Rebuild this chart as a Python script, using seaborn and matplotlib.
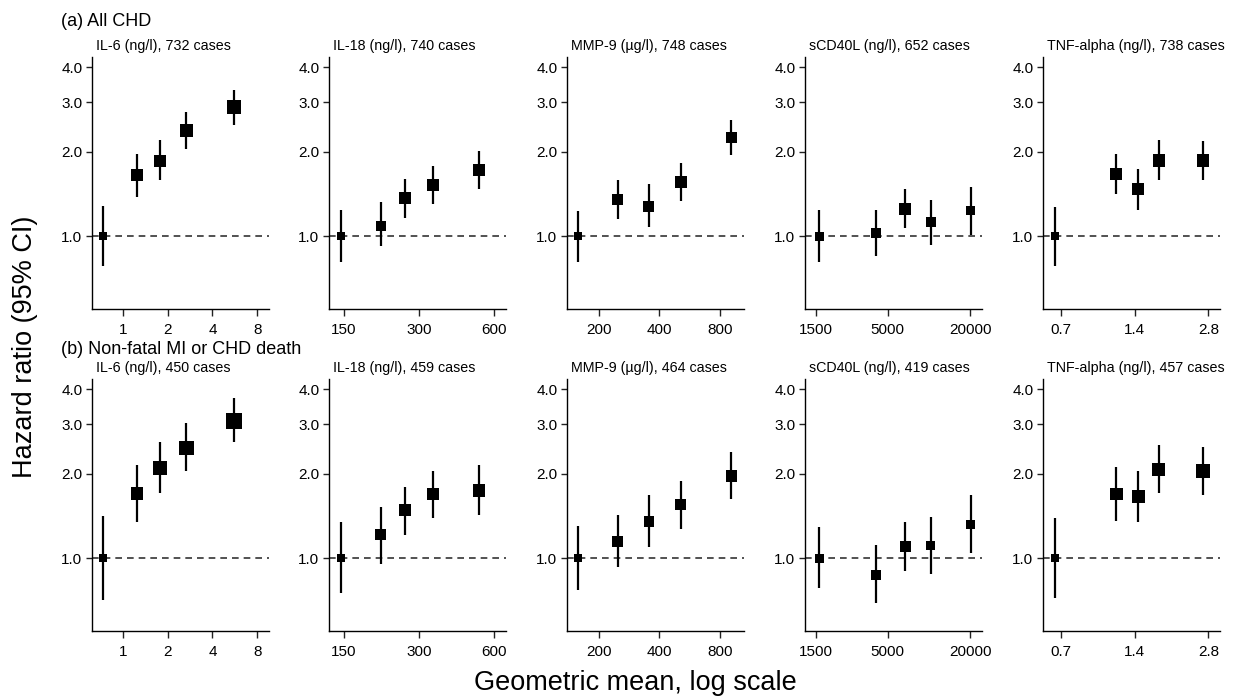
import numpy as np
import pandas as pd
import matplotlib
matplotlib.use("Agg")
import matplotlib.pyplot as plt
import seaborn as sns

# biomarkers and number of cases per outcome
biomarkers = ["IL-6 (ng/l)", "IL-18 (ng/l)", "MMP-9 (µg/l)", "sCD40L (ng/l)", "TNF-alpha (ng/l)"]
cases_all_chd = [732, 740, 748, 652, 738]
cases_mi_death = [450, 459, 464, 419, 457]
outcomes = ["(a) All CHD", "(b) Non-fatal MI or CHD death"]

# geometric mean of each fifth (x axis)
gm_il6 = [0.73, 1.24, 1.78, 2.67, 5.6]
gm_il18 = [146, 211, 264, 341, 523]
gm_mmp9 = [158, 249, 355, 511, 913]
gm_scd40l = [1580, 4120, 6720, 10260, 20100]
gm_tnf = [0.664, 1.18, 1.45, 1.76, 2.66]

x_ticks = [[1, 2, 4, 8], [150, 300, 600], [200, 400, 800], [1500, 5000, 20000], [0.7, 1.4, 2.8]]
x_tick_labels = [["1", "2", "4", "8"], ["150", "300", "600"], ["200", "400", "800"],
                 ["1500", "5000", "20000"], ["0.7", "1.4", "2.8"]]
x_limits = [(0.62, 9.6), (131, 670), (139.5, 1054), (1242, 24360), (0.593, 3.12)]

# (a) All CHD: hazard ratio, lower, upper
hr_a_il6 = [1.0, 1.65, 1.86, 2.38, 2.89]
lo_a_il6 = [0.78, 1.38, 1.58, 2.04, 2.49]
hi_a_il6 = [1.28, 1.96, 2.21, 2.77, 3.33]
hr_a_il18 = [1.0, 1.09, 1.37, 1.52, 1.72]
lo_a_il18 = [0.81, 0.92, 1.16, 1.30, 1.47]
hi_a_il18 = [1.24, 1.32, 1.60, 1.78, 2.01]
hr_a_mmp9 = [1.0, 1.35, 1.28, 1.56, 2.25]
lo_a_mmp9 = [0.81, 1.15, 1.08, 1.33, 1.94]
hi_a_mmp9 = [1.23, 1.58, 1.53, 1.83, 2.60]
hr_a_scd40l = [1.0, 1.03, 1.25, 1.12, 1.23]
lo_a_scd40l = [0.81, 0.85, 1.07, 0.93, 1.01]
hi_a_scd40l = [1.24, 1.24, 1.47, 1.35, 1.50]
hr_a_tnf = [1.0, 1.67, 1.47, 1.86, 1.86]
lo_a_tnf = [0.78, 1.41, 1.24, 1.58, 1.58]
hi_a_tnf = [1.27, 1.97, 1.74, 2.20, 2.18]

# (b) Non-fatal MI or CHD death
hr_b_il6 = [1.0, 1.70, 2.10, 2.47, 3.08]
lo_b_il6 = [0.71, 1.35, 1.71, 2.04, 2.59]
hi_b_il6 = [1.41, 2.14, 2.59, 3.02, 3.71]
hr_b_il18 = [1.0, 1.21, 1.48, 1.69, 1.74]
lo_b_il18 = [0.75, 0.95, 1.21, 1.39, 1.43]
hi_b_il18 = [1.34, 1.52, 1.80, 2.04, 2.14]
hr_b_mmp9 = [1.0, 1.15, 1.35, 1.55, 1.96]
lo_b_mmp9 = [0.77, 0.93, 1.10, 1.27, 1.62]
hi_b_mmp9 = [1.30, 1.43, 1.68, 1.88, 2.38]
hr_b_scd40l = [1.0, 0.87, 1.10, 1.11, 1.32]
lo_b_scd40l = [0.78, 0.69, 0.90, 0.88, 1.04]
hi_b_scd40l = [1.29, 1.11, 1.35, 1.40, 1.68]
hr_b_tnf = [1.0, 1.69, 1.66, 2.07, 2.04]
lo_b_tnf = [0.72, 1.36, 1.35, 1.70, 1.68]
hi_b_tnf = [1.39, 2.11, 2.04, 2.54, 2.49]

# square marker width (weight of each estimate)
w_a_il6 = [8, 12, 12, 13, 14]
w_a_il18 = [8, 10, 11.5, 11.5, 11.5]
w_a_mmp9 = [8, 11, 11, 12, 11.5]
w_a_scd40l = [9, 10, 12, 10, 9]
w_a_tnf = [8, 12, 12, 12.5, 12.5]
w_b_il6 = [8, 12.5, 14, 14.5, 16]
w_b_il18 = [8, 11, 12, 12.5, 12.5]
w_b_mmp9 = [8, 11, 10.5, 11.5, 11.5]
w_b_scd40l = [9, 10, 11, 9.5, 9.5]
w_b_tnf = [8, 12.5, 13, 13, 14]

gm_all = [gm_il6, gm_il18, gm_mmp9, gm_scd40l, gm_tnf]
rows = [
    [(hr_a_il6, lo_a_il6, hi_a_il6, w_a_il6), (hr_a_il18, lo_a_il18, hi_a_il18, w_a_il18),
     (hr_a_mmp9, lo_a_mmp9, hi_a_mmp9, w_a_mmp9), (hr_a_scd40l, lo_a_scd40l, hi_a_scd40l, w_a_scd40l),
     (hr_a_tnf, lo_a_tnf, hi_a_tnf, w_a_tnf)],
    [(hr_b_il6, lo_b_il6, hi_b_il6, w_b_il6), (hr_b_il18, lo_b_il18, hi_b_il18, w_b_il18),
     (hr_b_mmp9, lo_b_mmp9, hi_b_mmp9, w_b_mmp9), (hr_b_scd40l, lo_b_scd40l, hi_b_scd40l, w_b_scd40l),
     (hr_b_tnf, lo_b_tnf, hi_b_tnf, w_b_tnf)],
]
cases = [cases_all_chd, cases_mi_death]

sns.set_style("ticks")
plt.rcParams["font.family"] = ["Liberation Sans", "DejaVu Sans"]
plt.rcParams["text.color"] = "black"
plt.rcParams["xtick.color"] = "black"
plt.rcParams["ytick.color"] = "black"

W, H = 1235, 700
fig = plt.figure(figsize=(W / 100, H / 100), dpi=100)

lefts = [92, 329, 567, 805, 1043]
ax_w = 177
tops = [57, 379]
label_y = [21, 350]
ax_h = 252
area_min = (0.72 * 8) ** 2
area_max = (0.72 * 16) ** 2

for r in range(2):
    fig.text(61 / W, 1 - label_y[r] / H, outcomes[r], fontsize=13, ha="left", va="center")
    for c in range(5):
        ax = fig.add_axes([lefts[c] / W, 1 - (tops[r] + ax_h) / H, ax_w / W, ax_h / H])
        hr, lo, hi, w = rows[r][c]
        df = pd.DataFrame({"gm": gm_all[c], "hr": hr, "lo": lo, "hi": hi,
                           "area": [(0.72 * v) ** 2 for v in w]})
        ax.set_xscale("log")
        ax.set_yscale("log")
        ax.axhline(1.0, color="#333333", lw=1.2, ls=(0, (4, 3)), zorder=1)
        ax.vlines(df["gm"], df["lo"], df["hi"], color="black", lw=1.6, zorder=2)
        sns.scatterplot(data=df, x="gm", y="hr", size="area", sizes=(area_min, area_max),
                        size_norm=(area_min, area_max), marker="s", color="black",
                        linewidth=0, legend=False, ax=ax, zorder=3)
        ax.set_xlim(*x_limits[c])
        ax.set_ylim(0.55, 4.35)
        ax.minorticks_off()
        ax.set_xticks(x_ticks[c])
        ax.set_xticklabels(x_tick_labels[c])
        ax.set_yticks([1, 2, 3, 4])
        ax.set_yticklabels(["1.0", "2.0", "3.0", "4.0"])
        ax.minorticks_off()
        ax.set_xlabel("")
        ax.set_ylabel("")
        ax.tick_params(axis="both", direction="out", length=4, width=1, color="#222222",
                       labelcolor="black", labelsize=11, pad=3)
        ax.tick_params(axis="x", length=5, pad=5)
        for s in ["top", "right"]:
            ax.spines[s].set_visible(False)
        for s in ["left", "bottom"]:
            ax.spines[s].set_color("black")
            ax.spines[s].set_linewidth(1)
        ax.text(0.02, 1.015, f"{biomarkers[c]}, {cases[r][c]} cases", transform=ax.transAxes,
                fontsize=10.3, ha="left", va="bottom")

fig.text(25 / W, 1 - 347 / H, "Hazard ratio (95% CI)", rotation=90, fontsize=19.5,
         ha="center", va="center")
fig.text(635 / W, 1 - 683 / H, "Geometric mean, log scale", fontsize=19.5, ha="center", va="center")

fig.savefig("out.png", dpi=100)
